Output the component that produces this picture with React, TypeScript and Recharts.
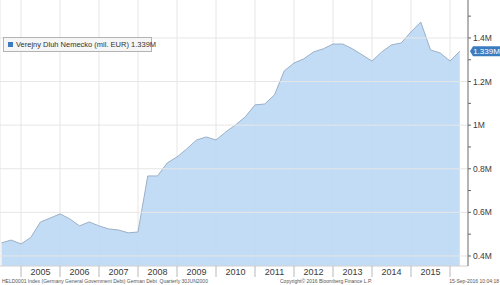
import { AreaChart, Area, XAxis, YAxis, CartesianGrid, ReferenceLine } from "recharts";

// quarter-end observations, values in M (mil. EUR shown as M on the axis)
const quarters = [
  "2004Q2", "2004Q3", "2004Q4",
  "2005Q1", "2005Q2", "2005Q3", "2005Q4",
  "2006Q1", "2006Q2", "2006Q3", "2006Q4",
  "2007Q1", "2007Q2", "2007Q3", "2007Q4",
  "2008Q1", "2008Q2", "2008Q3", "2008Q4",
  "2009Q1", "2009Q2", "2009Q3", "2009Q4",
  "2010Q1", "2010Q2", "2010Q3", "2010Q4",
  "2011Q1", "2011Q2", "2011Q3", "2011Q4",
  "2012Q1", "2012Q2", "2012Q3", "2012Q4",
  "2013Q1", "2013Q2", "2013Q3", "2013Q4",
  "2014Q1", "2014Q2", "2014Q3", "2014Q4",
  "2015Q1", "2015Q2", "2015Q3", "2015Q4",
  "2016Q1",
];
const debt = [
  0.46, 0.473, 0.455,
  0.485, 0.556, 0.574, 0.593,
  0.57, 0.538, 0.556, 0.538,
  0.524, 0.519, 0.506, 0.51,
  0.767, 0.767, 0.827, 0.854,
  0.891, 0.932, 0.946, 0.932,
  0.969, 1.001, 1.038, 1.093,
  1.097, 1.139, 1.249, 1.285,
  1.304, 1.336, 1.35, 1.372,
  1.372, 1.35, 1.322, 1.294,
  1.336, 1.368, 1.377, 1.428,
  1.473, 1.345, 1.331, 1.294,
  1.339,
];
const years = [2005, 2006, 2007, 2008, 2009, 2010, 2011, 2012, 2013, 2014, 2015, 2016];
const yTicks = [0.4, 0.5, 0.6, 0.7, 0.8, 0.9, 1.0, 1.1, 1.2, 1.3, 1.4, 1.5];
const yMajor = [0.4, 0.6, 0.8, 1.0, 1.2, 1.4];
const lastLabel = "1.339M";
const seriesName = "Verejny Dluh Nemecko (mil. EUR)";

const data = quarters.map((q, i) => ({
  t: Number(q.slice(0, 4)) + Number(q.slice(5)) * 0.25,
  debt: debt[i],
}));

const font = "'Liberation Sans', Arial, sans-serif";
const fmt = (v: number) => `${Number(v.toFixed(1))}M`;

const YearTick = ({ x, y, payload }: any) => {
  const yr = payload.value;
  return (
    <g>
      <line x1={x} x2={x} y1={y} y2={y + 11} stroke="#b8b8b8" />
      {yr < 2016 && (
        <text x={x + 19.5} y={y + 9} textAnchor="middle" fontSize={9} fill="#3a3a3a" fontFamily={font}>
          {yr}
        </text>
      )}
    </g>
  );
};

const ValueTick = ({ x, y, payload }: any) => {
  const v = payload.value;
  const major = Math.round(v * 10) % 2 === 0;
  return (
    <g>
      <line x1={x} x2={x + 3} y1={y} y2={y} stroke="#666" />
      {major && (
        <text x={x + 5} y={y + 3} fontSize={8.5} fill="#3a3a3a" fontFamily={font}>
          {fmt(v)}
        </text>
      )}
    </g>
  );
};

const LastTag = ({ viewBox }: any) => {
  const x = viewBox.x + viewBox.width + 2;
  const y = viewBox.y;
  return (
    <g>
      <path d={`M${x} ${y} L${x + 3} ${y - 5} L${x + 30} ${y - 5} L${x + 30} ${y + 5} L${x + 3} ${y + 5} Z`} fill="#3b7cc0" />
      <text x={x + 16.5} y={y + 3} textAnchor="middle" fontSize={8} fill="#fff" fontFamily={font}>
        {lastLabel}
      </text>
    </g>
  );
};

export default function App() {
  return (
    <div style={{ position: "absolute", left: 0, top: 0, width: 500, height: 285, background: "#fff", fontFamily: font }}>
      <AreaChart width={500} height={285} data={data} margin={{ top: 0, right: 0, left: 0, bottom: 8 }}>
        <CartesianGrid horizontal={false} stroke="#e6e6e6" />
        {yMajor.map((v) => (
          <ReferenceLine key={v} y={v} stroke="#e6e6e6" />
        ))}
        <XAxis
          dataKey="t"
          type="number"
          domain={[2004.4615, 2016.4615]}
          allowDataOverflow
          ticks={years}
          interval={0}
          tickSize={0}
          tickMargin={0}
          tickLine={false}
          axisLine={{ stroke: "#d0d0d0" }}
          height={11}
          tick={<YearTick />}
        />
        <YAxis
          orientation="right"
          type="number"
          domain={[0.354, 1.574]}
          allowDataOverflow
          ticks={yTicks}
          interval={0}
          tickSize={0}
          tickMargin={0}
          tickLine={false}
          axisLine={{ stroke: "#777" }}
          width={32}
          tick={<ValueTick />}
        />
        <Area
          type="linear"
          dataKey="debt"
          stroke="#9bb0c6"
          strokeWidth={1}
          fill="#bcd8f5"
          fillOpacity={0.9}
          dot={false}
          activeDot={false}
          isAnimationActive={false}
        />
        <ReferenceLine y={debt[debt.length - 1]} stroke="none" ifOverflow="visible" label={<LastTag />} />
      </AreaChart>
      <div
        style={{
          position: "absolute", left: 3, top: 37, width: 147, height: 13,
          border: "1px solid #b3b3b3", background: "#f6f6f6", fontSize: 7.5, color: "#333",
          display: "flex", alignItems: "center", whiteSpace: "nowrap",
        }}
      >
        <span style={{ flex: "0 0 5px", width: 5, height: 5, background: "#3b7cc0", margin: "0 3px 0 4px" }} />
        <span>{seriesName} {lastLabel}</span>
      </div>
      <div style={{ position: "absolute", left: 2, top: 278, fontSize: 5, color: "#555", whiteSpace: "nowrap" }}>
        HELD0001 Index (Germany General Government Debt) German Debt&nbsp;&nbsp;Quarterly 30JUN2000
      </div>
      <div style={{ position: "absolute", left: 280, top: 278, fontSize: 5, color: "#555", whiteSpace: "nowrap" }}>
        Copyright© 2016 Bloomberg Finance L.P.
      </div>
      <div style={{ position: "absolute", right: 1, top: 278, fontSize: 5, color: "#555", whiteSpace: "nowrap" }}>
        15-Sep-2016 10:04:18
      </div>
    </div>
  );
}
